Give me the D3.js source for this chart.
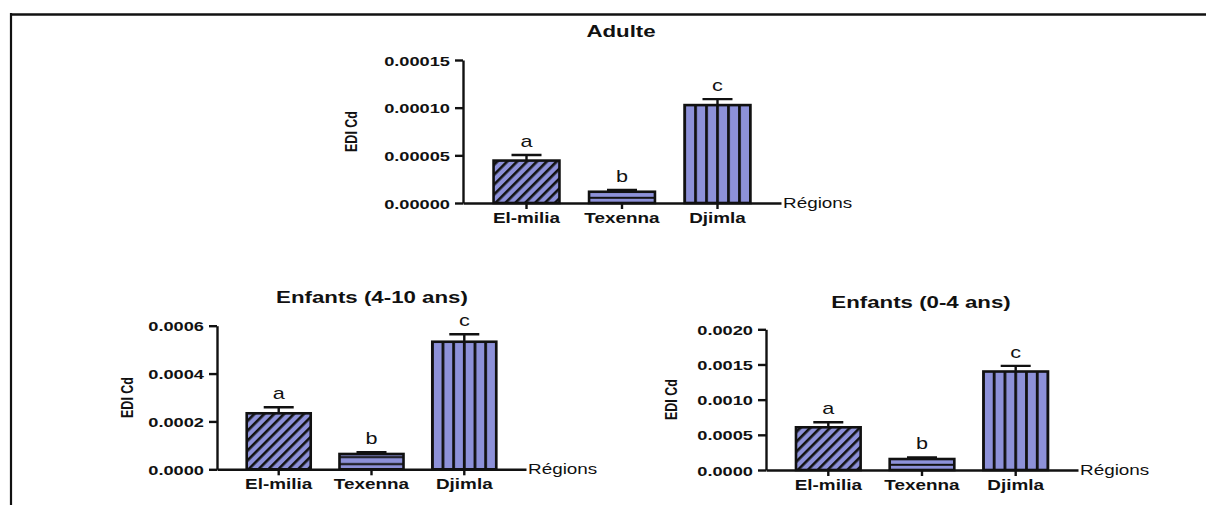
<!DOCTYPE html>
<html>
<head>
<meta charset="utf-8">
<script src="https://cdn.jsdelivr.net/npm/d3@7"></script>
<style>
body { margin: 0; background: #fff; }
svg { display: block; }
text { font-family: "Liberation Sans", Arial, sans-serif; fill: #111; }
</style>
</head>
<body>
<div id="chart"></div>
<script>
// values
var regions = ["El-milia", "Texenna", "Djimla"];
var letters = ["a", "b", "c"];

var adulteMeans = [0.0000445, 0.0000118, 0.0001027];
var adulteErr = [0.0000058, 0.0000018, 0.0000063];
var adulteTicks = [0, 0.00005, 0.0001, 0.00015];

var enf410Means = [0.000234, 0.000064, 0.000533];
var enf410Err = [0.000025, 0.000007, 0.000031];
var enf410Ticks = [0, 0.0002, 0.0004, 0.0006];

var enf04Means = [0.000607, 0.000156, 0.0014];
var enf04Err = [0.000071, 0.000024, 0.00008];
var enf04Ticks = [0, 0.0005, 0.001, 0.0015, 0.002];

var fillColor = '#8d91d9';
var SX = 1.35; // the source picture is stretched sideways

var panels = [
    { id: 'ad', title: 'Adulte', means: adulteMeans, errs: adulteErr, ticks: adulteTicks, fmt: '.5f',
      x0: 463, x1: 781, yTop: 60, yBase: 203, titleX: 621, titleY: 37, labelX: 351 },
    { id: 'e410', title: 'Enfants (4-10 ans)', means: enf410Means, errs: enf410Err, ticks: enf410Ticks, fmt: '.4f',
      x0: 217, x1: 526, yTop: 325.7, yBase: 469.3, titleX: 372, titleY: 303, labelX: 127 },
    { id: 'e04', title: 'Enfants (0-4 ans)', means: enf04Means, errs: enf04Err, ticks: enf04Ticks, fmt: '.4f',
      x0: 766, x1: 1078, yTop: 329.3, yBase: 470, titleX: 921, titleY: 308, labelX: 671 }
];

var svg = d3.select('#chart').append('svg')
    .attr('width', 1206)
    .attr('height', 505);

svg.append('rect').attr('width', 1206).attr('height', 505).attr('fill', '#fff');

// frame of the original figure
svg.append('line').attr('x1', 10).attr('x2', 1206).attr('y1', 14.5).attr('y2', 14.5)
    .attr('stroke', '#111').attr('stroke-width', 2.5);
svg.append('line').attr('x1', 11).attr('x2', 11).attr('y1', 13).attr('y2', 505)
    .attr('stroke', '#111').attr('stroke-width', 2.2);

var defs = svg.append('defs');

// stretch a text horizontally around its anchor point
function stretch(sel, rotated) {
    sel.each(function() {
        var t = d3.select(this);
        var x = +t.attr('x') || 0, y = +t.attr('y') || 0;
        t.attr('x', 0).attr('y', 0)
            .attr('transform', 'translate(' + x + ',' + y + ')' + (rotated ? ' rotate(-90) scale(1,' + SX + ')' : ' scale(' + SX + ',1)'));
    });
}

panels.forEach(function(p) {
    var x = d3.scaleBand().domain(regions).range([p.x0, p.x1]).paddingInner(0.31).paddingOuter(0.32);
    var y = d3.scaleLinear().domain([0, p.ticks[p.ticks.length - 1]]).range([p.yBase, p.yTop]);
    var bw = x.bandwidth();
    var g = svg.append('g');

    // hatch patterns, anchored on the bars
    var diag = defs.append('pattern').attr('id', 'diag-' + p.id)
        .attr('patternUnits', 'userSpaceOnUse').attr('width', 7).attr('height', 7)
        .attr('patternTransform', 'translate(' + x(regions[0]) + ',' + p.yBase + ') rotate(45)');
    diag.append('rect').attr('width', 7).attr('height', 7).attr('fill', fillColor);
    diag.append('rect').attr('width', 2.6).attr('height', 7).attr('fill', '#111');

    var hor = defs.append('pattern').attr('id', 'hor-' + p.id)
        .attr('patternUnits', 'userSpaceOnUse').attr('width', 10).attr('height', 7)
        .attr('y', p.yBase);
    hor.append('rect').attr('width', 10).attr('height', 7).attr('fill', fillColor);
    hor.append('rect').attr('y', 0.8).attr('width', 10).attr('height', 2).attr('fill', '#111');

    var vstep = bw / 6;
    var vert = defs.append('pattern').attr('id', 'vert-' + p.id)
        .attr('patternUnits', 'userSpaceOnUse').attr('width', vstep).attr('height', 10)
        .attr('x', x(regions[2]) - 1.4);
    vert.append('rect').attr('width', vstep).attr('height', 10).attr('fill', fillColor);
    vert.append('rect').attr('width', 2.8).attr('height', 10).attr('fill', '#111');

    var fills = ['url(#diag-' + p.id + ')', 'url(#hor-' + p.id + ')', 'url(#vert-' + p.id + ')'];

    // error bars
    g.selectAll('.err')
        .data(regions)
        .enter()
        .append('path')
        .attr('class', 'err')
        .attr('d', function(d, i) {
            var cx = x(d) + bw / 2, top = y(p.means[i] + p.errs[i]);
            return 'M' + cx + ',' + y(p.means[i]) + 'V' + top + 'M' + (cx - 15) + ',' + top + 'H' + (cx + 15);
        })
        .attr('fill', 'none')
        .attr('stroke', '#111')
        .attr('stroke-width', 2.4);

    // bars
    g.selectAll('.bar')
        .data(regions)
        .enter()
        .append('rect')
        .attr('class', 'bar')
        .attr('x', function(d) { return x(d); })
        .attr('y', function(d, i) { return y(p.means[i]); })
        .attr('width', bw)
        .attr('height', function(d, i) { return p.yBase - y(p.means[i]); })
        .attr('fill', function(d, i) { return fills[i]; })
        .attr('stroke', '#111')
        .attr('stroke-width', 2.6);

    // significance letters
    g.selectAll('.letter')
        .data(regions)
        .enter()
        .append('text')
        .attr('class', 'letter')
        .attr('x', function(d) { return x(d) + bw / 2; })
        .attr('y', function(d, i) { return y(p.means[i] + p.errs[i]) - 8; })
        .attr('text-anchor', 'middle')
        .style('font-size', '16px')
        .text(function(d, i) { return letters[i]; })
        .call(stretch);

    // y axis
    var yAxis = g.append('g')
        .attr('transform', 'translate(' + p.x0 + ',0)')
        .call(d3.axisLeft(y).tickValues(p.ticks).tickFormat(d3.format(p.fmt)).tickSize(8).tickSizeOuter(0).tickPadding(5));
    yAxis.selectAll('path, line').attr('stroke', '#111').attr('stroke-width', 2.4);
    yAxis.selectAll('text')
        .attr('fill', '#111')
        .style('font-size', '13.5px')
        .style('font-weight', 'bold')
        .style('font-family', '"Liberation Sans", Arial, sans-serif')
        .attr('dy', null)
        .attr('dominant-baseline', 'central')
        .call(stretch);

    // x axis
    var xAxis = g.append('g')
        .attr('transform', 'translate(0,' + p.yBase + ')')
        .call(d3.axisBottom(x).tickSize(6).tickSizeOuter(0).tickPadding(7));
    xAxis.selectAll('path, line').attr('stroke', '#111').attr('stroke-width', 2.4);
    xAxis.selectAll('text')
        .attr('fill', '#111')
        .style('font-size', '14px')
        .style('font-weight', 'bold')
        .style('font-family', '"Liberation Sans", Arial, sans-serif')
        .attr('dy', null)
        .attr('y', 20)
        .call(stretch);

    g.append('text')
        .attr('x', p.x1 + 2)
        .attr('y', p.yBase + 5)
        .style('font-size', '14px')
        .text('Régions')
        .call(stretch);

    g.append('text')
        .attr('x', p.labelX)
        .attr('y', (p.yTop + p.yBase) / 2)
        .attr('text-anchor', 'middle')
        .attr('dy', '0.36em')
        .style('font-size', '12.5px')
        .style('font-weight', 'bold')
        .text('EDI Cd')
        .call(stretch, true);

    g.append('text')
        .attr('x', p.titleX)
        .attr('y', p.titleY)
        .attr('text-anchor', 'middle')
        .style('font-size', '16.5px')
        .style('font-weight', 'bold')
        .text(p.title)
        .call(stretch);
});
</script>
</body>
</html>
